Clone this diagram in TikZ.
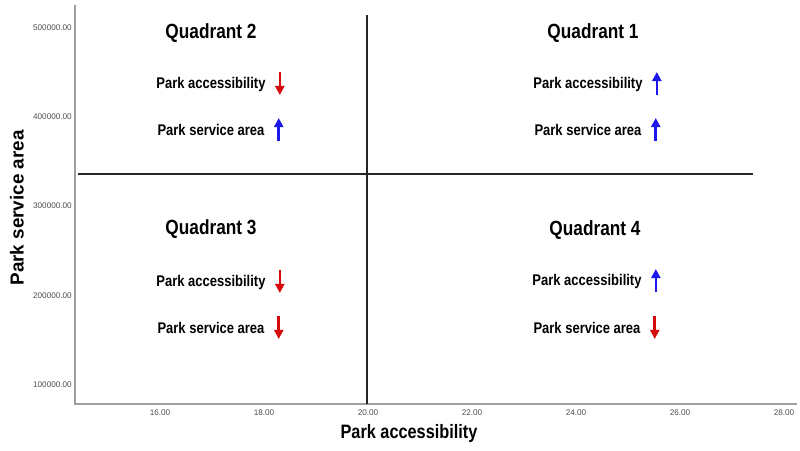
\documentclass[tikz,border=0pt]{standalone}
\usepackage{fontspec}
\setmainfont{Liberation Sans}
\newfontfamily\narrowfont[FakeStretch=0.84]{Liberation Sans}
\usetikzlibrary{arrows.meta, calc}
\definecolor{upblue}{RGB}{28,24,235}
\definecolor{downred}{RGB}{214,12,12}

\begin{document}
\begin{tikzpicture}[x=0.025cm, y=-0.025cm]
        \tikzset{
            axisline/.style={draw=gray!75, line width=0.9pt},
            splitline/.style={draw=black!85, line width=1.1pt},
            ticklabel/.style={font=\fontsize{5.8}{6}\selectfont, text=black!70, inner sep=0pt},
            axistitle/.style={font=\bfseries\fontsize{13.4}{15}\selectfont, inner sep=0pt},
            quadtitle/.style={font=\narrowfont\bfseries\fontsize{14.6}{16}\selectfont, inner sep=0pt},
            itemlabel/.style={font=\narrowfont\bfseries\fontsize{11}{13}\selectfont, inner sep=0pt},
            trend/.style={line width=1.8pt, -{Triangle[length=6.5pt, width=6.5pt]}},
            incarrow/.style={trend, draw=upblue, fill=upblue},
            decarrow/.style={trend, draw=downred, fill=downred}
        }
        \useasboundingbox (0,0) rectangle (800,450);

        % --- AXES ---
        \draw[axisline] (75,5) -- (75,404) -- (797,404);
        \foreach \v in {16,18,...,28}
            \node[ticklabel] at ({368+(\v-20)*52},413) {\v.00};
        \foreach \v in {1,...,5}
            \node[ticklabel, anchor=east] at (72,{206-(\v-3)*89.25}) {\v00000.00};
        \node[axistitle, font=\narrowfont\bfseries\fontsize{13.8}{15}\selectfont] (xt) at (409,433) {Park accessibility};
        \node[axistitle, rotate=90] (yt) at (17,208) {Park service area};

        % --- SPLIT LINES ---
        \draw[splitline] (367,15) -- (367,404);
        \draw[splitline] (78,174) -- (753,174);

        % --- QUADRANT 2 ---
        \node[quadtitle] (q2) at (211,33) {Quadrant 2};
        \node[itemlabel] (q2a) at (211,84) {Park accessibility};
        \node[itemlabel] (q2b) at (211,130) {Park service area};

        % --- QUADRANT 1 ---
        \node[quadtitle] (q1) at (593,33) {Quadrant 1};
        \node[itemlabel] (q1a) at (588,84) {Park accessibility};
        \node[itemlabel] (q1b) at (588,130) {Park service area};

        % --- QUADRANT 3 ---
        \node[quadtitle] (q3) at (211,229) {Quadrant 3};
        \node[itemlabel] (q3a) at (211,282) {Park accessibility};
        \node[itemlabel] (q3b) at (211,328) {Park service area};

        % --- QUADRANT 4 ---
        \node[quadtitle] (q4) at (595,230) {Quadrant 4};
        \node[itemlabel] (q4a) at (587,281) {Park accessibility};
        \node[itemlabel] (q4b) at (587,328) {Park service area};

        % Trend arrows
        \draw[decarrow] ($(q2a.east)+(14,-12)$) -- ++(0,23);
        \draw[incarrow] ($(q2b.east)+(14,11)$) -- ++(0,-23);
        \draw[incarrow] ($(q1a.east)+(14,11)$) -- ++(0,-23);
        \draw[incarrow] ($(q1b.east)+(14,11)$) -- ++(0,-23);
        \draw[decarrow] ($(q3a.east)+(14,-12)$) -- ++(0,23);
        \draw[decarrow] ($(q3b.east)+(14,-12)$) -- ++(0,23);
        \draw[incarrow] ($(q4a.east)+(14,11)$) -- ++(0,-23);
        \draw[decarrow] ($(q4b.east)+(14,-12)$) -- ++(0,23);

    \end{tikzpicture}
\end{document}
